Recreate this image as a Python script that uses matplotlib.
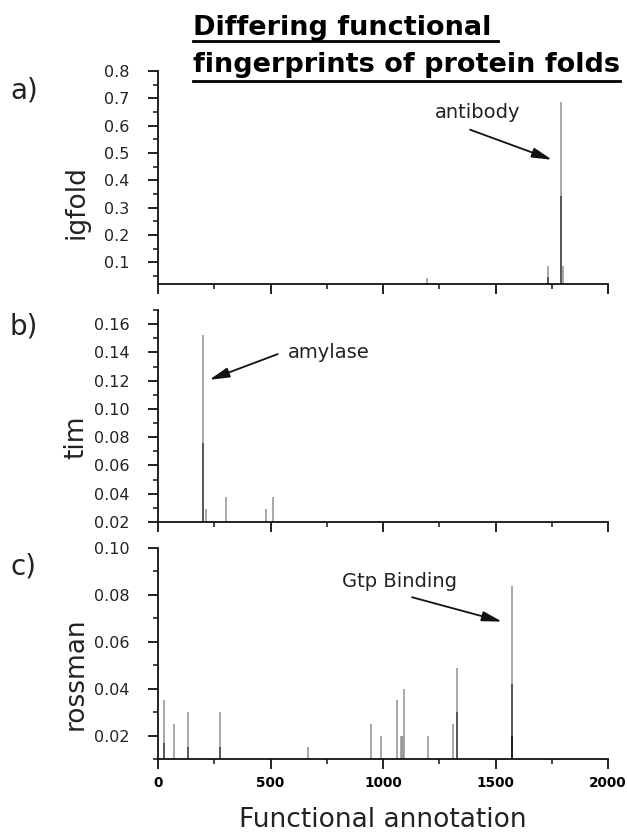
import matplotlib
matplotlib.use("Agg")
import matplotlib.pyplot as plt
from matplotlib.lines import Line2D
from matplotlib.ticker import MultipleLocator, FormatStrFormatter

# ---------- datos ----------
# posicion de la anotacion funcional y altura del pico
igfold_x = [1194, 1735, 1790, 1799]
igfold_y = [0.043, 0.086, 0.688, 0.086]
igfold_mid_x = [1735, 1790]
igfold_mid_y = [0.045, 0.344]

tim_x = [201, 213, 302, 479, 513]
tim_y = [0.152, 0.029, 0.038, 0.029, 0.038]
tim_mid_x = [201]
tim_mid_y = [0.076]

rossman_x = [27, 73, 135, 276, 667, 947, 991, 1061, 1080, 1085, 1090,
             1093, 1199, 1310, 1329, 1572]
rossman_y = [0.035, 0.025, 0.030, 0.030, 0.015, 0.025, 0.020, 0.035,
             0.020, 0.020, 0.020, 0.040, 0.020, 0.025, 0.049, 0.084]
rossman_mid_x = [27, 135, 276, 1329, 1572]
rossman_mid_y = [0.017, 0.015, 0.015, 0.030, 0.042]
rossman_dark_x = [1572]
rossman_dark_y = [0.020]

W, H = 627, 836


def fx(px):
    return px / W


def fy(py):
    return 1 - py / H


fig = plt.figure(figsize=(W / 100, H / 100), dpi=100)

# ---------- ejes (a, b, c) ----------
paneles = [
    dict(top=71, bottom=284, ylim=(0.02, 0.8), major=0.1, minor=0.05, fmt="%.1f",
         x=igfold_x, y=igfold_y, mx=igfold_mid_x, my=igfold_mid_y, dx=[], dy=[],
         letra="a)", letra_y=91, nombre="igfold", nombre_y=202),
    dict(top=310, bottom=522, ylim=(0.02, 0.17), major=0.02, minor=0.01, fmt="%.2f",
         x=tim_x, y=tim_y, mx=tim_mid_x, my=tim_mid_y, dx=[], dy=[],
         letra="b)", letra_y=327, nombre="tim", nombre_y=437),
    dict(top=548, bottom=759, ylim=(0.01, 0.10), major=0.02, minor=0.01, fmt="%.2f",
         x=rossman_x, y=rossman_y, mx=rossman_mid_x, my=rossman_mid_y,
         dx=rossman_dark_x, dy=rossman_dark_y,
         letra="c)", letra_y=567, nombre="rossman", nombre_y=674),
]

axes = []
for i, p in enumerate(paneles):
    ax = fig.add_axes([fx(158), fy(p["bottom"]), fx(608) - fx(158),
                       (p["bottom"] - p["top"]) / H])
    base = p["ylim"][0]
    ax.vlines(p["x"], base, p["y"], color="#9a9a9a", lw=1.2)
    ax.vlines(p["mx"], base, p["my"], color="#4a4a4a", lw=1.2)
    if p["dx"]:
        ax.vlines(p["dx"], base, p["dy"], color="#1a1a1a", lw=1.2)

    ax.set_xlim(0, 2000)
    ax.set_ylim(*p["ylim"])
    ax.xaxis.set_major_locator(MultipleLocator(500))
    ax.xaxis.set_minor_locator(MultipleLocator(250))
    ax.yaxis.set_major_locator(MultipleLocator(p["major"]))
    ax.yaxis.set_minor_locator(MultipleLocator(p["minor"]))
    ax.yaxis.set_major_formatter(FormatStrFormatter(p["fmt"]))

    for s in ("top", "right"):
        ax.spines[s].set_visible(False)
    for s in ("left", "bottom"):
        ax.spines[s].set_linewidth(1.3)
        ax.spines[s].set_color("#111111")

    ax.tick_params(which="major", direction="out", length=7.5, width=1.3, color="#111111")
    ax.tick_params(which="minor", direction="out", length=3.8, width=1.1, color="#111111")
    ax.tick_params(axis="y", labelsize=11.5, pad=13, labelcolor="#222222")
    ax.tick_params(axis="x", labelsize=9.8, pad=5)
    if i < 2:
        ax.tick_params(axis="x", labelbottom=False)
    else:
        for t in ax.get_xticklabels():
            t.set_fontweight("bold")

    fig.text(fx(10), fy(p["letra_y"]), p["letra"], fontsize=20, va="center",
             ha="left", color="#222222")
    fig.text(fx(76), fy(p["nombre_y"]), p["nombre"], fontsize=19, rotation=90,
             ha="center", va="center", color="#222222")
    axes.append(ax)

# ---------- anotaciones ----------
flecha = dict(arrowstyle="-|>,head_length=0.8,head_width=0.2", color="#111111",
              lw=1.3, shrinkA=0, shrinkB=0, mutation_scale=15)

axes[0].annotate("", xy=(1751, 0.475), xytext=(1387, 0.585), arrowprops=flecha)
axes[0].text(1231, 0.647, "antibody", fontsize=14, va="center", ha="left",
             color="#222222")

axes[1].annotate("", xy=(228, 0.1206), xytext=(532, 0.1388), arrowprops=flecha)
axes[1].text(578, 0.1397, "amylase", fontsize=14, va="center", ha="left",
             color="#222222")

axes[2].annotate("", xy=(1529, 0.0686), xytext=(1129, 0.079), arrowprops=flecha)
axes[2].text(818, 0.0855, "Gtp Binding", fontsize=14, va="center", ha="left",
             color="#222222")

fig.text(fx(383), fy(820), "Functional annotation", fontsize=19, ha="center",
         va="center", color="#222222")

# ---------- titulo subrayado ----------
renderer = fig.canvas.get_renderer()
t1 = fig.text(fx(193), fy(35), "Differing functional", fontsize=19.5,
              fontweight="bold", va="baseline", ha="left")
t2 = fig.text(fx(193), fy(72), "fingerprints of protein folds", fontsize=19.5,
              fontweight="bold", va="baseline", ha="left")
for t, uy, extra in ((t1, 41, 7), (t2, 81, 0)):
    bb = t.get_window_extent(renderer)
    fig.add_artist(Line2D([bb.x0 / W, (bb.x1 + extra) / W], [fy(uy), fy(uy)],
                          transform=fig.transFigure, color="black", lw=2))

fig.savefig("out.png", dpi=100)
